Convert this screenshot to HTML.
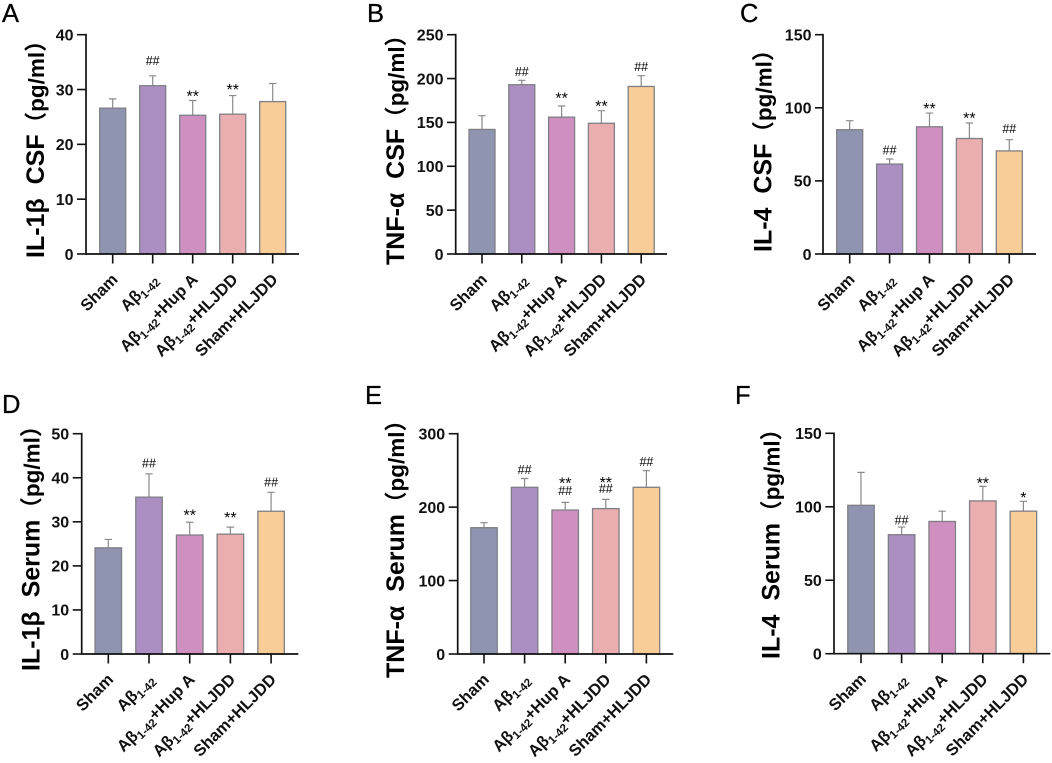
<!DOCTYPE html>
<html lang="en">
<head>
<meta charset="utf-8">
<title>Cytokine levels in CSF and serum</title>
<style>
html,body{margin:0;padding:0;background:#fff;}
body{width:1052px;height:763px;overflow:hidden;}
svg{display:block;filter:blur(0.3px);}
text{font-family:"Liberation Sans","Noto Sans CJK SC",sans-serif;}
</style>
</head>
<body>
<svg id="figure" width="1052" height="763" viewBox="0 0 1052 763" xmlns="http://www.w3.org/2000/svg"></svg>
<script>
const categories = ['Sham', 'Aβ1-42', 'Aβ1-42+Hup A', 'Aβ1-42+HLJDD', 'Sham+HLJDD'];
const barColors = ['#8f95b0', '#ab8fc2', '#cf8fc0', '#ebaeb0', '#f8cd97'];

const ticksA = [0, 10, 20, 30, 40];
const valuesA = [26.6, 30.7, 25.3, 25.5, 27.8];
const errorTopsA = [28.3, 32.5, 28.0, 28.9, 31.1];
const marksA = ['', '##', '**', '**', ''];
const markLevelsA = [0, 35.3, 29.3, 30.5, 0];

const ticksB = [0, 50, 100, 150, 200, 250];
const valuesB = [142, 193, 156, 149, 191];
const errorTopsB = [157.7, 198, 168.7, 163.4, 203.3];
const marksB = ['', '##', '**', '**', '##'];
const markLevelsB = [0, 207.8, 180.8, 171.7, 213.9];

const ticksC = [0, 50, 100, 150];
const valuesC = [85, 61.5, 87, 79, 70.5];
const errorTopsC = [91.2, 65, 96.4, 89.6, 78.2];
const marksC = ['', '##', '**', '**', '##'];
const markLevelsC = [0, 71.1, 101.2, 94.8, 85.7];

const ticksD = [0, 10, 20, 30, 40, 50];
const valuesD = [24.1, 35.6, 27, 27.2, 32.4];
const errorTopsD = [26, 40.9, 29.9, 28.8, 36.7];
const marksD = ['', '##', '**', '**', '##'];
const markLevelsD = [0, 43.3, 32.1, 31.5, 39];

const ticksE = [0, 100, 200, 300];
const valuesE = [172, 227, 196, 198, 227];
const errorTopsE = [178.8, 239, 206.5, 210.6, 249.6];
const marksE = ['', '##', '**', '**', '##'];
const markLevelsE = [0, 251, 236, 236.9, 261.9];
const secondMarksE = ['', '', '##', '##', ''];
const secondMarkLevelsE = [0, 0, 222.8, 225, 0];

const ticksF = [0, 50, 100, 150];
const valuesF = [101, 81, 90, 104, 97];
const errorTopsF = [123.4, 86.2, 97, 113.9, 103.7];
const marksF = ['', '##', '', '**', '*'];
const markLevelsF = [0, 90.8, 0, 118, 108];

const none = ['', '', '', '', ''];
const unitLabel = '（pg/ml）';
const panels = [
  {id:'a', letter:'A', title:'IL-1β  CSF', ticks:ticksA, values:valuesA, tops:errorTopsA, marks:marksA, levels:markLevelsA, marks2:none, levels2:none,
   axisX:86, tickL:77, endX:299, y0:254, yTop:34.7, first:112.7, step:40, bw:26, titleX:44, titleY:258, lx:2, ly:22},
  {id:'b', letter:'B', title:'TNF-α  CSF', ticks:ticksB, values:valuesB, tops:errorTopsB, marks:marksB, levels:markLevelsB, marks2:none, levels2:none,
   axisX:455.7, tickL:447, endX:667, y0:254, yTop:34.7, first:482, step:39.8, bw:26, titleX:404, titleY:265, lx:367, ly:22},
  {id:'c', letter:'C', title:'IL-4  CSF', ticks:ticksC, values:valuesC, tops:errorTopsC, marks:marksC, levels:markLevelsC, marks2:none, levels2:none,
   axisX:823, tickL:815, endX:1036, y0:254, yTop:34.7, first:849.7, step:39.9, bw:26, titleX:771.3, titleY:252, lx:740, ly:22},
  {id:'d', letter:'D', title:'IL-1β  Serum', ticks:ticksD, values:valuesD, tops:errorTopsD, marks:marksD, levels:markLevelsD, marks2:none, levels2:none,
   axisX:81.7, tickL:72.7, endX:298.3, y0:654, yTop:433.7, first:108.3, step:40.7, bw:26.5, titleX:39.3, titleY:671, lx:2, ly:413},
  {id:'e', letter:'E', title:'TNF-α  Serum', ticks:ticksE, values:valuesE, tops:errorTopsE, marks:marksE, levels:markLevelsE, marks2:secondMarksE, levels2:secondMarkLevelsE,
   axisX:457.7, tickL:448.7, endX:673.3, y0:654, yTop:433.7, first:484, step:40.6, bw:26.5, titleX:404, titleY:678, lx:365, ly:404},
  {id:'f', letter:'F', title:'IL-4  Serum', ticks:ticksF, values:valuesF, tops:errorTopsF, marks:marksF, levels:markLevelsF, marks2:none, levels2:none,
   axisX:834, tickL:825.3, endX:1050.3, y0:653.7, yTop:433.3, first:861, step:40.6, bw:26.5, titleX:779.6, titleY:659, lx:735, ly:404}
];

const NS = 'http://www.w3.org/2000/svg';
const root = document.getElementById('figure');

function make(tag, attrs, parent) {
  const el = document.createElementNS(NS, tag);
  for (const k in attrs) el.setAttribute(k, attrs[k]);
  parent.appendChild(el);
  return el;
}

function addCategoryText(el, label) {
  const parts = label.split('1-42');
  if (parts.length === 1) { el.textContent = label; return; }
  const a = make('tspan', {}, el);
  a.textContent = parts[0];
  const sub = make('tspan', {dy: 3.5, 'font-size': 11.5}, el);
  sub.textContent = '1-42';
  if (parts[1]) {
    const b = make('tspan', {dy: -3.5}, el);
    b.textContent = parts[1];
  }
}

function drawMark(g, p, cx, yScale, mark, level) {
  if (!mark) return;
  const isHash = mark === '##';
  const fs = isHash ? 12.5 : 16;
  const off = isHash ? 4.4 : 8;
  const t = make('text', {x: cx, y: yScale(level) + off, 'text-anchor': 'middle', 'font-size': fs, fill: '#000'}, g);
  t.textContent = mark;
  
  
}

panels.forEach(function (p) {
  const yMax = p.ticks[p.ticks.length - 1];
  const yScale = function (v) { return p.y0 - (v / yMax) * (p.y0 - p.yTop); };
  const xScale = function (i) { return p.first + i * p.step; };

  const g = make('g', {}, root);
  
  

  const letter = make('text', {x: p.lx, y: p.ly, 'font-size': 25.5, fill: '#000', stroke: '#000', 'stroke-width': 0.3}, g);
  letter.textContent = p.letter;
  
  

  const title = make('text', {transform: 'translate(' + p.titleX + ',' + p.titleY + ') rotate(-90)', 'font-size': 25, 'font-weight': 'bold', fill: '#000'}, g);
  title.style.whiteSpace = 'pre';
  
  
  const titleMain = make('tspan', {}, title);
  titleMain.textContent = p.title;
  const titleUnit = make('tspan', {'font-size': 22.5}, title);
  titleUnit.textContent = unitLabel;

  p.values.forEach(function (v, i) {
    const cx = xScale(i);
    const err = make('path', {d: 'M' + cx + ' ' + yScale(v) + 'V' + yScale(p.tops[i]) + 'M' + (cx - 3.7) + ' ' + yScale(p.tops[i]) + 'H' + (cx + 3.7), stroke: '#8a8a8a', 'stroke-width': 1.2, fill: 'none'}, g);
    
    

    const bar = make('rect', {x: cx - p.bw / 2, y: yScale(v), width: p.bw, height: p.y0 - yScale(v), fill: barColors[i], stroke: '#7f7f86', 'stroke-width': 1.3}, g);
    
    

    drawMark(g, p, cx, yScale, p.marks[i], p.levels[i]);
    drawMark(g, p, cx, yScale, p.marks2[i], p.levels2[i]);

    const tick = make('line', {x1: cx, x2: cx, y1: p.y0, y2: p.y0 + 9.5, stroke: '#111', 'stroke-width': 1.6}, g);
    
    

    const lab = make('text', {transform: 'translate(' + (cx + 6) + ',' + (p.y0 + 26.5) + ') rotate(-45)', 'text-anchor': 'end', 'font-size': 16.4, 'font-weight': 'bold', fill: '#111'}, g);
    addCategoryText(lab, categories[i]);
    
    
  });

  p.ticks.forEach(function (t) {
    const y = yScale(t);
    const tick = make('line', {x1: p.tickL, x2: p.axisX, y1: y, y2: y, stroke: '#111', 'stroke-width': 1.6}, g);
    
    

    const lab = make('text', {x: p.tickL - 3.5, y: y + 5.8, 'text-anchor': 'end', 'font-size': 16, 'font-weight': 'bold', fill: '#111'}, g);
    lab.textContent = t;
    
    
  });

  const yAxis = make('line', {x1: p.axisX, x2: p.axisX, y1: p.yTop - 0.8, y2: p.y0 + 0.8, stroke: '#111', 'stroke-width': 1.7}, g);
  
  

  const xAxis = make('line', {x1: p.axisX, x2: p.endX, y1: p.y0, y2: p.y0, stroke: '#111', 'stroke-width': 1.7}, g);
  
  
});
</script>
</body>
</html>
